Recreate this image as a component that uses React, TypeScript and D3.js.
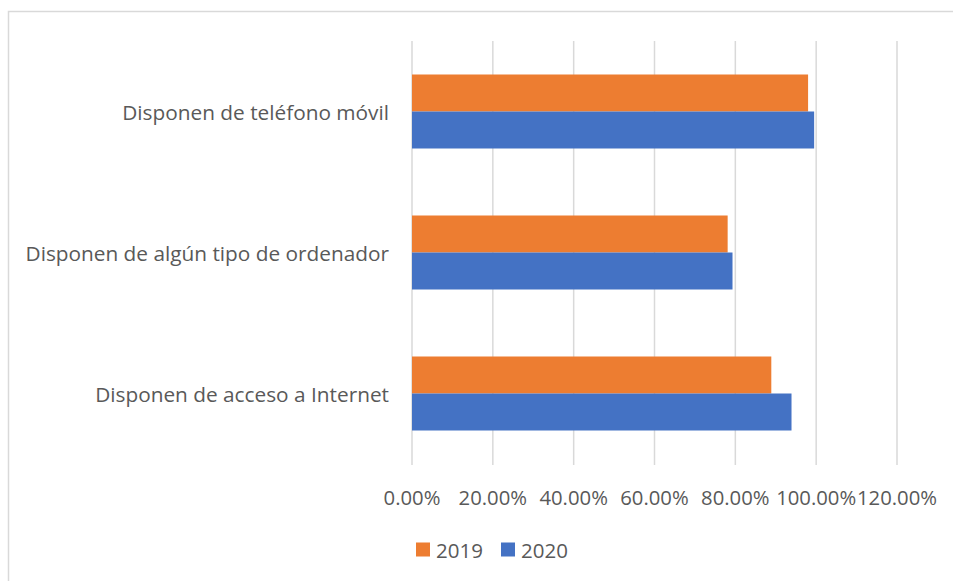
import React, { useEffect, useRef } from "react";
import * as d3 from "d3";

const categories = [
  "Disponen de teléfono móvil",
  "Disponen de algún tipo de ordenador",
  "Disponen de acceso a Internet",
];
const seriesNames = ["2019", "2020"];
const values2019 = [0.98, 0.781, 0.889];
const values2020 = [0.995, 0.793, 0.939];
const tickValues = [0, 0.2, 0.4, 0.6, 0.8, 1.0, 1.2];
const colors = ["#ED7D31", "#4472C4"];

const W = 953;
const H = 581;

export default function App() {
  const ref = useRef<SVGSVGElement>(null);

  useEffect(() => {
    const svg = d3.select(ref.current);
    svg.selectAll("*").remove();
    const font = "'Open Sans', sans-serif";
    const textColor = "#595959";

    // chart border (top and left visible)
    svg.append("rect")
      .attr("x", 8.5).attr("y", 11.5)
      .attr("width", W + 10).attr("height", H + 10)
      .attr("fill", "#fff").attr("stroke", "#d9d9d9").attr("stroke-width", 1.5);

    const x = d3.scaleLinear().domain([0, 1.2]).range([412, 897]);
    const y = d3.scaleBand().domain(categories).range([41, 464]).paddingInner(0).paddingOuter(0);
    const groupH = 74;
    const barH = groupH / 2;

    // gridlines
    svg.append("g").selectAll("line").data(tickValues).join("line")
      .attr("x1", (d) => x(d)).attr("x2", (d) => x(d))
      .attr("y1", 41).attr("y2", 465)
      .attr("stroke", "#d9d9d9").attr("stroke-width", 1.5);

    const rows = [values2019, values2020];
    rows.forEach((vals, si) => {
      svg.append("g").selectAll("rect").data(categories).join("rect")
        .attr("x", x(0))
        .attr("y", (d) => (y(d) as number) + (y.bandwidth() - groupH) / 2 + si * barH)
        .attr("width", (d, i) => x(vals[i]) - x(0))
        .attr("height", barH)
        .attr("fill", colors[si]);
    });

    // category labels
    svg.append("g").selectAll("text").data(categories).join("text")
      .attr("x", 389)
      .attr("y", (d) => (y(d) as number) + y.bandwidth() / 2)
      .attr("text-anchor", "end")
      .attr("dominant-baseline", "central")
      .attr("font-family", font).attr("font-size", 20.8)
      .attr("fill", textColor)
      .text((d) => d);

    // tick labels
    svg.append("g").selectAll("text").data(tickValues).join("text")
      .attr("x", (d) => x(d))
      .attr("y", 497)
      .attr("text-anchor", "middle")
      .attr("dominant-baseline", "central")
      .attr("font-family", font).attr("font-size", 20.3)
      .attr("fill", textColor)
      .text((d) => d3.format(".2%")(d));

    // legend
    const legendX = [416, 501];
    seriesNames.forEach((name, i) => {
      svg.append("rect")
        .attr("x", legendX[i]).attr("y", 542.5)
        .attr("width", 14).attr("height", 14)
        .attr("fill", colors[i]);
      svg.append("text")
        .attr("x", legendX[i] + 20).attr("y", 550)
        .attr("dominant-baseline", "central")
        .attr("font-family", font).attr("font-size", 20.5)
        .attr("fill", textColor)
        .text(name);
    });
  }, []);

  return (
    <svg
      ref={ref}
      width={W}
      height={H}
      style={{ position: "absolute", left: 0, top: 0, background: "#fff" }}
    />
  );
}
